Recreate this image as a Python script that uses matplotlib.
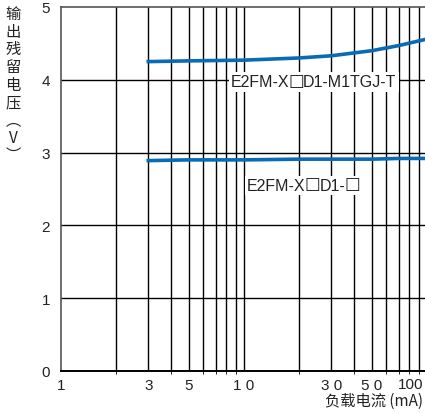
import numpy as np
import matplotlib.pyplot as plt
from matplotlib.text import Text
from matplotlib.ticker import FixedLocator, NullFormatter
from matplotlib.offsetbox import TextArea, HPacker, DrawingArea, AnnotationBbox

plt.rcParams['font.family'] = ['Liberation Sans', 'Noto Sans CJK SC', 'DejaVu Sans']

# load current (mA) vs residual output voltage (V)
current = [3, 5, 10, 20, 30, 50, 70, 100]
v_m1tgj = [4.25, 4.26, 4.27, 4.30, 4.33, 4.40, 4.47, 4.56]
v_d1 = [2.89, 2.90, 2.90, 2.91, 2.91, 2.91, 2.92, 2.92]

xticks = [1, 3, 5, 10, 30, 50]
xlabels = ["1", "3", "5", "1 0", "3 0", "5 0"]
yticks = [0, 1, 2, 3, 4, 5]

fig = plt.figure(figsize=(4.25, 4.14), dpi=100)
ax = fig.add_axes([61 / 425, 42 / 414, 366 / 425, 364 / 414])

ax.set_xscale("log")
ax.set_xlim(1, 100)
ax.set_ylim(0, 5)

minor = [m * d for d in (1, 10) for m in range(2, 10)]
ax.xaxis.set_major_locator(FixedLocator(xticks))
ax.xaxis.set_minor_locator(FixedLocator(minor))
ax.xaxis.set_minor_formatter(NullFormatter())
ax.set_xticklabels(xlabels)
ax.set_yticks(yticks)

for x in minor + [10]:
    ax.axvline(x, color="black", lw=1.0, zorder=1)
for y in [1, 2, 3, 4]:
    ax.axhline(y, color="black", lw=1.0, zorder=1)

ax.plot(current, v_m1tgj, color="#0a6bb5", lw=2.6, zorder=3)
ax.plot(current, v_d1, color="#0a6bb5", lw=2.6, zorder=3)


def model_label(parts, xy):
    boxes = []
    for p in parts:
        if p == "□":
            # □ from DejaVu, lifted so it sits on the baseline like a capital
            da = DrawingArea(10, 11, 0, 2.5, clip=False)
            da.add_artist(Text(5, 1.2, p, ha="center", va="baseline", fontsize=12,
                               color="#222222", family=["DejaVu Sans"]))
            boxes.append(da)
        else:
            boxes.append(TextArea(p, textprops=dict(fontsize=11.5, color="#222222",
                                                    family=["Liberation Sans"])))
    pack = HPacker(children=boxes, pad=0, sep=0, align="baseline")
    ab = AnnotationBbox(pack, xy, xycoords="data", frameon=True, pad=0.15,
                        bboxprops=dict(facecolor="white", edgecolor="none"), zorder=4)
    ax.add_artist(ab)


model_label(["E2FM-X", "□", "D1-M1TGJ-T"], (24, 3.97))
model_label(["E2FM-X", "□", "D1-", "□"], (21, 2.55))

ax.tick_params(length=0, labelsize=11, colors="#222222")
ax.tick_params(axis="x", pad=5)
ax.tick_params(axis="y", pad=8)
# last x label sits against the right edge of the picture
fig.text(423 / 425, 1 - 378 / 414, "100", ha="right", va="top",
         fontsize=11, color="#222222")

ax.spines["right"].set_visible(False)
ax.spines["top"].set_color("#555555")
ax.spines["left"].set_color("#555555")
ax.spines["bottom"].set_color("black")
ax.spines["bottom"].set_linewidth(1.4)
for s in ["top", "left"]:
    ax.spines[s].set_linewidth(1.2)

fig.text(13 / 425, 1 - 6 / 414, "输\n出\n残\n留\n电\n压\n︵\nV\n︶", ha="center", va="top",
         fontsize=11, color="#222222", linespacing=1.05,
         family=["Noto Sans CJK SC", "DejaVu Sans"])
fig.text(423 / 425, 4 / 414, "负载电流 (mA)", ha="right", va="bottom", fontsize=11,
         color="#222222", family=["Noto Sans CJK SC", "DejaVu Sans"])

fig.savefig("out.png", dpi=100)
